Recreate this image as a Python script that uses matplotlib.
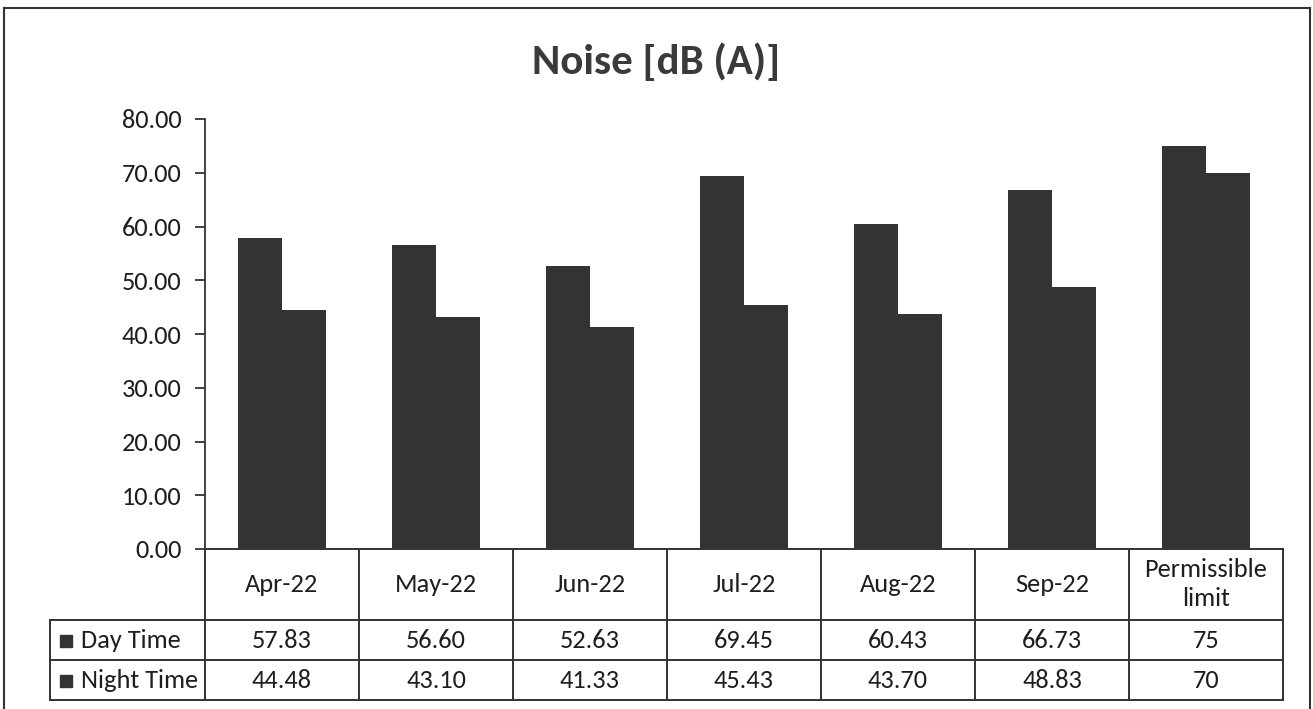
import numpy as np
from matplotlib import pyplot as plt
from matplotlib import font_manager as fm
from matplotlib.lines import Line2D

months = ['Apr-22', 'May-22', 'Jun-22', 'Jul-22', 'Aug-22', 'Sep-22', 'Permissible\nlimit']
day_time = [57.83, 56.60, 52.63, 69.45, 60.43, 66.73, 75]
night_time = [44.48, 43.10, 41.33, 45.43, 43.70, 48.83, 70]
day_labels = ['57.83', '56.60', '52.63', '69.45', '60.43', '66.73', '75']
night_labels = ['44.48', '43.10', '41.33', '45.43', '43.70', '48.83', '70']
yticks = [0, 10, 20, 30, 40, 50, 60, 70, 80]

# Calibri look-alike if there is one
have = set(f.name for f in fm.fontManager.ttflist)
font = 'Open Sans'
for cand in ['Carlito', 'Calibri']:
    if cand in have:
        font = cand
        break
plt.rcParams['font.family'] = [font, 'DejaVu Sans']
txt = '#1e1e1e'
bar_col = '#333333'

W, H = 1313, 709
fig = plt.figure(figsize=(W/100, H/100), dpi=100)

L, R = 205/W, 1283/W
ax = fig.add_axes([L, (H-549)/H, R-L, (549-119)/H])
tab = fig.add_axes([L, (H-700)/H, R-L, (700-549)/H], sharex=ax)

x = np.arange(len(months))
bw = 0.285
ax.bar(x - bw/2, day_time, bw, color=bar_col)
ax.bar(x + bw/2, night_time, bw, color=bar_col)
ax.set_xlim(-0.5, len(months) - 0.5)
ax.set_ylim(0, 80)
ax.set_yticks(yticks)
ax.set_yticklabels(['%.2f' % v for v in yticks], fontsize=19, color=txt)
ax.tick_params(axis='y', length=7, width=1.3, color='#333333', pad=10)
ax.tick_params(axis='x', bottom=False, labelbottom=False)
for s in ['top', 'right', 'bottom']:
    ax.spines[s].set_visible(False)
ax.spines['left'].set_linewidth(1.3)
ax.spines['left'].set_color('#333333')

fig.text(0.5, 1 - 62/H, 'Noise [dB (A)]', fontsize=31, fontweight='bold',
         color='#3a3a3a', ha='center', va='center')

# data table under the plot (y in pixels from the top of the table)
tab.set_ylim(151, 0)
tab.axis('off')
lw = 1.4
lc = '#333333'
xl = -0.5 - 155/154
kw = dict(color=lc, lw=lw, clip_on=False)
tab.plot([-0.5, len(months) - 0.5], [0, 0], **kw)
for yy in [71, 111, 151]:
    tab.plot([xl, len(months) - 0.5], [yy, yy], **kw)
for i in range(len(months) + 1):
    tab.plot([i - 0.5, i - 0.5], [0, 151], **kw)
tab.plot([xl, xl], [71, 151], **kw)

fs = 19
for i, m in enumerate(months):
    tab.text(i, 35, m, ha='center', va='center', fontsize=fs, color=txt, linespacing=1.35)
    tab.text(i, 91, day_labels[i], ha='center', va='center', fontsize=fs, color=txt)
    tab.text(i, 131, night_labels[i], ha='center', va='center', fontsize=fs, color=txt)

for yy, lab in [(91, 'Day Time'), (131, 'Night Time')]:
    tab.plot([xl + 16/154], [yy + 1], marker='s', ms=8.5, color=bar_col, clip_on=False)
    tab.text(xl + 31/154, yy, lab, ha='left', va='center', fontsize=fs, color=txt)

# outer chart border
fig.add_artist(Line2D([4/W, 1310/W], [1 - 8/H, 1 - 8/H], transform=fig.transFigure, color=lc, lw=1.5))
fig.add_artist(Line2D([4/W, 4/W], [0, 1 - 8/H], transform=fig.transFigure, color=lc, lw=1.5))
fig.add_artist(Line2D([1310/W, 1310/W], [0, 1 - 8/H], transform=fig.transFigure, color=lc, lw=1.5))

fig.savefig('out.png', dpi=100)
